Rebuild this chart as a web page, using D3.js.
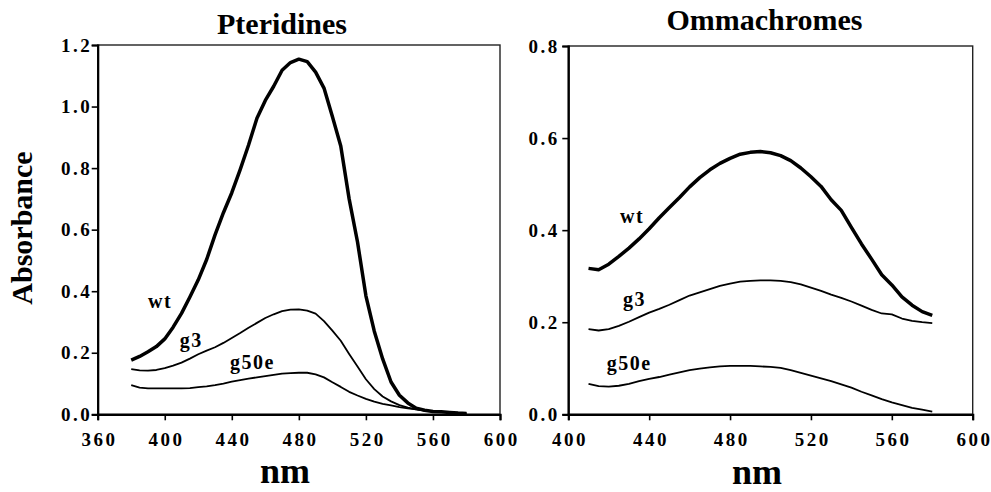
<!DOCTYPE html>
<html>
<head>
<meta charset="utf-8">
<script src="https://cdn.jsdelivr.net/npm/d3@7"></script>
<style>
  body { margin: 0; background: #fff; }
  svg text { font-family: "Liberation Serif", "Times New Roman", serif; font-weight: bold; fill: #000; }
</style>
</head>
<body>
<div class="chart"></div>
<script>
// wavelength grids (nm)
var leftNm = d3.range(380, 581, 5);
var rightNm = d3.range(410, 581, 5);

// Pteridines absorbance
var ptWt = [0.176, 0.188, 0.203, 0.220, 0.245, 0.283, 0.328, 0.381, 0.437, 0.503,
  0.583, 0.655, 0.720, 0.795, 0.875, 0.962, 1.020, 1.066, 1.118, 1.143,
  1.154, 1.146, 1.112, 1.060, 0.968, 0.872, 0.700, 0.560, 0.385, 0.270,
  0.180, 0.105, 0.062, 0.037, 0.020, 0.013, 0.009, 0.008, 0.006, 0.004, 0.003];
var ptG3 = [0.147, 0.143, 0.142, 0.144, 0.150, 0.158, 0.168, 0.181, 0.195, 0.207,
  0.218, 0.232, 0.248, 0.264, 0.281, 0.297, 0.313, 0.325, 0.335, 0.340,
  0.341, 0.337, 0.327, 0.303, 0.272, 0.239, 0.196, 0.155, 0.114, 0.082,
  0.058, 0.042, 0.030, 0.022, 0.016, 0.012, 0.010, 0.008, 0.006, 0.004, 0.003];
var ptG50e = [0.095, 0.087, 0.084, 0.084, 0.084, 0.084, 0.084, 0.085, 0.088, 0.091,
  0.095, 0.100, 0.106, 0.111, 0.116, 0.120, 0.124, 0.128, 0.132, 0.134,
  0.135, 0.135, 0.130, 0.120, 0.104, 0.089, 0.073, 0.061, 0.050, 0.041,
  0.034, 0.029, 0.023, 0.019, 0.016, 0.013, 0.010, 0.008, 0.006, 0.004, 0.003];

// Ommachromes absorbance
var omWt = [0.317, 0.314, 0.326, 0.343, 0.361, 0.381, 0.403, 0.427, 0.449, 0.471,
  0.494, 0.514, 0.531, 0.545, 0.556, 0.565, 0.569, 0.571, 0.568, 0.562,
  0.551, 0.535, 0.516, 0.495, 0.466, 0.443, 0.406, 0.370, 0.337, 0.303,
  0.281, 0.255, 0.237, 0.223, 0.215];
var omG3 = [0.185, 0.182, 0.185, 0.192, 0.201, 0.211, 0.221, 0.229, 0.238, 0.248,
  0.258, 0.265, 0.272, 0.279, 0.284, 0.288, 0.290, 0.291, 0.291, 0.290,
  0.287, 0.282, 0.275, 0.268, 0.260, 0.253, 0.245, 0.236, 0.227, 0.219,
  0.217, 0.208, 0.203, 0.200, 0.198];
var omG50e = [0.066, 0.061, 0.060, 0.062, 0.066, 0.072, 0.077, 0.081, 0.086, 0.091,
  0.096, 0.099, 0.102, 0.104, 0.105, 0.105, 0.105, 0.104, 0.103, 0.101,
  0.096, 0.090, 0.084, 0.078, 0.072, 0.065, 0.058, 0.049, 0.041, 0.033,
  0.026, 0.020, 0.014, 0.010, 0.006];

var seriesNames = ["wt", "g3", "g50e"];
var leftXTicks = [360, 400, 440, 480, 520, 560, 600];
var rightXTicks = [400, 440, 480, 520, 560, 600];
var leftYTicks = [0, 0.2, 0.4, 0.6, 0.8, 1.0, 1.2];
var rightYTicks = [0, 0.2, 0.4, 0.6, 0.8];

var svg = d3.select(".chart")
  .append("svg")
  .attr("width", 991)
  .attr("height", 492);

var panels = [
  { title: "Pteridines", nm: leftNm, series: [ptWt, ptG3, ptG50e],
    xDomain: [360, 600], yDomain: [0, 1.2], xTicks: leftXTicks, yTicks: leftYTicks,
    left: 97.7, right: 500, top: 45, bottom: 414.3,
    titleX: 282, titleY: 34, nmX: 285, nmY: 483, yPad: 2,
    labels: [[390, 0.345], [409, 0.219], [439, 0.147]] },
  { title: "Ommachromes", nm: rightNm, series: [omWt, omG3, omG50e],
    xDomain: [400, 600], yDomain: [0, 0.8], xTicks: rightXTicks, yTicks: rightYTicks,
    left: 568.3, right: 972.7, top: 46, bottom: 414.3,
    titleX: 764.5, titleY: 30, nmX: 757, nmY: 484, yPad: 5,
    labels: [[425.6, 0.416], [427, 0.235], [419, 0.096]] }
];

var widths = [3.5, 1.8, 1.8];
var tickSpacing = 2.5;

panels.forEach(function(p) {
  var x = d3.scaleLinear().domain(p.xDomain).range([p.left, p.right]);
  var y = d3.scaleLinear().domain(p.yDomain).range([p.bottom, p.top]);
  var g = svg.append("g");

  // frame (top / right thinner)
  g.append("rect")
    .attr("x", p.left).attr("y", p.top)
    .attr("width", p.right - p.left).attr("height", p.bottom - p.top)
    .attr("fill", "none").attr("stroke", "#222").attr("stroke-width", 1.4);

  var xAxis = d3.axisBottom(x).tickValues(p.xTicks).tickSize(6).tickPadding(12)
    .tickFormat(d3.format("d"));
  var yAxis = d3.axisLeft(y).tickValues(p.yTicks).tickSize(6).tickPadding(p.yPad)
    .tickFormat(d3.format(".1f"));

  var gx = g.append("g").attr("transform", `translate(0, ${p.bottom})`).call(xAxis);
  var gy = g.append("g").attr("transform", `translate(${p.left}, 0)`).call(yAxis);
  [gx, gy].forEach(function(a) {
    a.select(".domain").attr("stroke", "#000").attr("stroke-width", 2.2);
    a.selectAll(".tick line").attr("stroke", "#000").attr("stroke-width", 1.6);
    a.selectAll(".tick text")
      .style("font-family", "'Liberation Serif', 'Times New Roman', serif")
      .style("font-weight", "bold")
      .style("font-size", "19px")
      .style("letter-spacing", tickSpacing + "px")
      .attr("fill", "#000");
  });
  // make up for the trailing letter spacing
  gx.selectAll(".tick text").attr("dx", (tickSpacing / 2) + "px");
  gy.selectAll(".tick text").attr("dx", tickSpacing + "px");

  // curves
  var line = d3.line()
    .x(function(d) { return x(d[0]); })
    .y(function(d) { return y(d[1]); });
  p.series.forEach(function(vals, i) {
    g.append("path")
      .datum(p.nm.map(function(n, j) { return [n, vals[j]]; }))
      .attr("d", line)
      .attr("fill", "none")
      .attr("stroke", "#000")
      .attr("stroke-width", widths[i])
      .attr("stroke-linejoin", "round");
  });

  // series labels
  p.labels.forEach(function(l, i) {
    g.append("text")
      .attr("x", x(l[0])).attr("y", y(l[1]))
      .style("font-size", "20px")
      .style("letter-spacing", "1.5px")
      .text(seriesNames[i]);
  });

  // title and x label
  g.append("text")
    .attr("x", p.titleX).attr("y", p.titleY)
    .attr("text-anchor", "middle")
    .style("font-size", "30px")
    .text(p.title);
  g.append("text")
    .attr("x", p.nmX).attr("y", p.nmY)
    .attr("text-anchor", "middle")
    .style("font-size", "36px")
    .text("nm");
});

// y axis title
svg.append("text")
  .attr("transform", "translate(32, 228) rotate(-90)")
  .attr("text-anchor", "middle")
  .style("font-size", "30px")
  .text("Absorbance");
</script>
</body>
</html>
